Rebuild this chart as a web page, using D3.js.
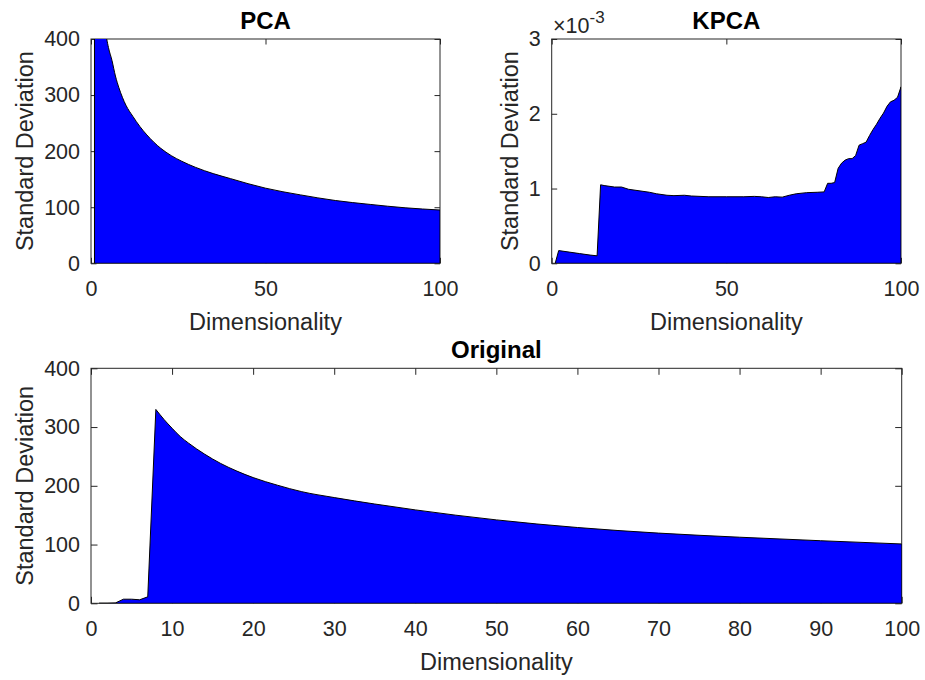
<!DOCTYPE html>
<html>
<head>
<meta charset="utf-8">
<script src="https://cdn.jsdelivr.net/npm/d3@7"></script>
<style>
  body { margin: 0; background: #fff; }
  svg { display: block; font-family: "Liberation Sans", Arial, sans-serif; }
  .axis text { font-size: 21.5px; fill: #262626; font-family: "Liberation Sans", Arial, sans-serif; }
  .axis line { stroke: #262626; }
  .axis .domain { display: none; }
  .axis-label { font-size: 23.5px; fill: #262626; }
  .title { font-size: 24px; font-weight: bold; fill: #000; }
  .box { fill: none; stroke: #262626; stroke-width: 1; }
  .fill { fill: #0000ff; stroke: #000; stroke-width: 1; stroke-linejoin: round; }
</style>
</head>
<body>
<div id="chart"></div>
<script>
// PCA: standard deviation per dimension (values above 400 run off the axis)
const pcaDims = [1, 2, 3, 4, 5, 6, 7, 8, 9, 10, 12, 14, 16, 18, 20, 23, 26, 30, 35, 40, 45, 50, 60, 70, 80, 90, 100];
const pcaStd = [1000, 640, 490, 421, 385, 362, 334, 313, 296, 282, 262, 244, 229, 216, 205, 192, 182, 171, 160, 151, 142, 134, 122, 112, 105, 99, 95];

// KPCA: standard deviation, in units of 1e-3
const kpcaDims = [1, 2, 5, 8, 11, 13, 14, 15, 18, 20, 22, 25, 28, 30, 33, 35, 38, 40, 45, 50, 55, 58, 60, 62, 64, 66, 68, 70, 73, 76, 78, 79, 80, 81, 82, 83, 84, 85, 86, 87, 88, 89, 90, 91, 92, 93, 94, 95, 96, 97, 98, 99, 100];
const kpcaStd = [0, 0.17, 0.15, 0.13, 0.11, 0.10, 1.05, 1.04, 1.02, 1.02, 0.99, 0.97, 0.95, 0.93, 0.91, 0.905, 0.91, 0.90, 0.89, 0.89, 0.89, 0.895, 0.89, 0.88, 0.89, 0.885, 0.91, 0.93, 0.945, 0.95, 0.955, 1.07, 1.07, 1.08, 1.27, 1.34, 1.38, 1.40, 1.40, 1.44, 1.58, 1.60, 1.62, 1.71, 1.79, 1.86, 1.94, 2.01, 2.10, 2.16, 2.18, 2.22, 2.36];

// Original data
const origDims = [1, 2, 3, 4, 5, 6, 7, 8, 9, 10, 11, 12, 14, 16, 18, 20, 23, 26, 30, 35, 40, 45, 50, 60, 70, 80, 90, 100];
const origStd = [0, 0, 0.5, 7, 7, 6, 11, 330, 313, 298, 284, 273, 254, 238, 225, 214, 201, 190, 180, 169, 159, 150, 142, 129, 119.5, 112.5, 106.5, 101];

const sdTicks = [0, 100, 200, 300, 400];
const kpcaTicks = [0, 1, 2, 3];
const coarseDimTicks = [0, 50, 100];
const fineDimTicks = [0, 10, 20, 30, 40, 50, 60, 70, 80, 90, 100];

const width = 925, height = 680;
const svg = d3.select("#chart").append("svg").attr("width", width).attr("height", height);
const defs = svg.append("defs");

function panel(o) {
  const x = d3.scaleLinear().domain([0, 100]).range([o.left, o.right]);
  const y = d3.scaleLinear().domain(o.yDomain).range([o.bottom, o.top]);
  const g = svg.append("g");
  const clipId = `clip-${o.key}`;
  defs.append("clipPath").attr("id", clipId).append("rect")
    .attr("x", o.left).attr("y", o.top).attr("width", o.right - o.left).attr("height", o.bottom - o.top);

  // inward ticks on all four sides
  g.append("g").attr("class", "axis").attr("transform", `translate(0,${o.bottom})`)
    .call(d3.axisBottom(x).tickValues(o.xTicks).tickSizeInner(-o.tickLen).tickSizeOuter(0).tickPadding(17));
  g.append("g").attr("class", "axis").attr("transform", `translate(0,${o.top})`)
    .call(d3.axisTop(x).tickValues(o.xTicks).tickSizeInner(-o.tickLen).tickSizeOuter(0).tickFormat(""));
  g.append("g").attr("class", "axis").attr("transform", `translate(${o.left},0)`)
    .call(d3.axisLeft(y).tickValues(o.yTicks).tickSizeInner(-o.tickLen).tickSizeOuter(0).tickPadding(11).tickFormat(d3.format("d")));
  g.append("g").attr("class", "axis").attr("transform", `translate(${o.right},0)`)
    .call(d3.axisRight(y).tickValues(o.yTicks).tickSizeInner(-o.tickLen).tickSizeOuter(0).tickFormat(""));

  g.append("rect").attr("class", "box")
    .attr("x", o.left).attr("y", o.top).attr("width", o.right - o.left).attr("height", o.bottom - o.top);

  // filled area: straight segments up to smoothFrom, a monotone curve after it
  const data = o.dims.map((d, i) => ({ d, v: o.values[i] }));
  const k = o.smoothFrom == null ? data.length - 1 : o.smoothFrom;
  const straight = d3.line().x((p) => x(p.d)).y((p) => y(p.v));
  const smooth = d3.line().x((p) => x(p.d)).y((p) => y(p.v)).curve(d3.curveMonotoneX);
  const first = data[0], last = data[data.length - 1];
  let path = `M${x(first.d)},${y(0)}` + straight(data.slice(0, k + 1)).replace(/^M/, "L");
  if (k < data.length - 1) path += smooth(data.slice(k)).replace(/^M/, "L");
  path += `L${x(last.d)},${y(0)}Z`;
  g.append("path").attr("class", "fill").attr("clip-path", `url(#${clipId})`).attr("d", path);

  g.append("text").attr("class", "title").attr("text-anchor", "middle")
    .attr("x", (o.left + o.right) / 2).attr("y", o.top - 10).text(o.title);
  g.append("text").attr("class", "axis-label").attr("text-anchor", "middle")
    .attr("x", (o.left + o.right) / 2).attr("y", o.bottom + 66.5).text("Dimensionality");
  g.append("text").attr("class", "axis-label").attr("text-anchor", "middle")
    .attr("transform", `translate(${o.yLabelX},${(o.top + o.bottom) / 2}) rotate(-90)`).text("Standard Deviation");
  return g;
}

panel({ key: "pca", title: "PCA", left: 91, right: 440, top: 39, bottom: 263.3, tickLen: 5.5,
  yDomain: [0, 400], yTicks: sdTicks, xTicks: coarseDimTicks, dims: pcaDims, values: pcaStd,
  smoothFrom: 0, yLabelX: 33 });

const kp = panel({ key: "kpca", title: "KPCA", left: 551.7, right: 901, top: 39, bottom: 263.3, tickLen: 5.5,
  yDomain: [0, 3], yTicks: kpcaTicks, xTicks: coarseDimTicks, dims: kpcaDims, values: kpcaStd,
  smoothFrom: null, yLabelX: 518 });

// exponent label of the KPCA y axis
const expo = kp.append("text").attr("x", 553).attr("y", 33.3).attr("fill", "#262626").style("font-size", "21.5px");
expo.append("tspan").text("\u00d710");
expo.append("tspan").attr("dy", -10).style("font-size", "17px").text("-3");

panel({ key: "orig", title: "Original", left: 91, right: 901.7, top: 368.3, bottom: 603.3, tickLen: 6.5,
  yDomain: [0, 400], yTicks: sdTicks, xTicks: fineDimTicks, dims: origDims, values: origStd,
  smoothFrom: 7, yLabelX: 33 });
</script>
</body>
</html>
